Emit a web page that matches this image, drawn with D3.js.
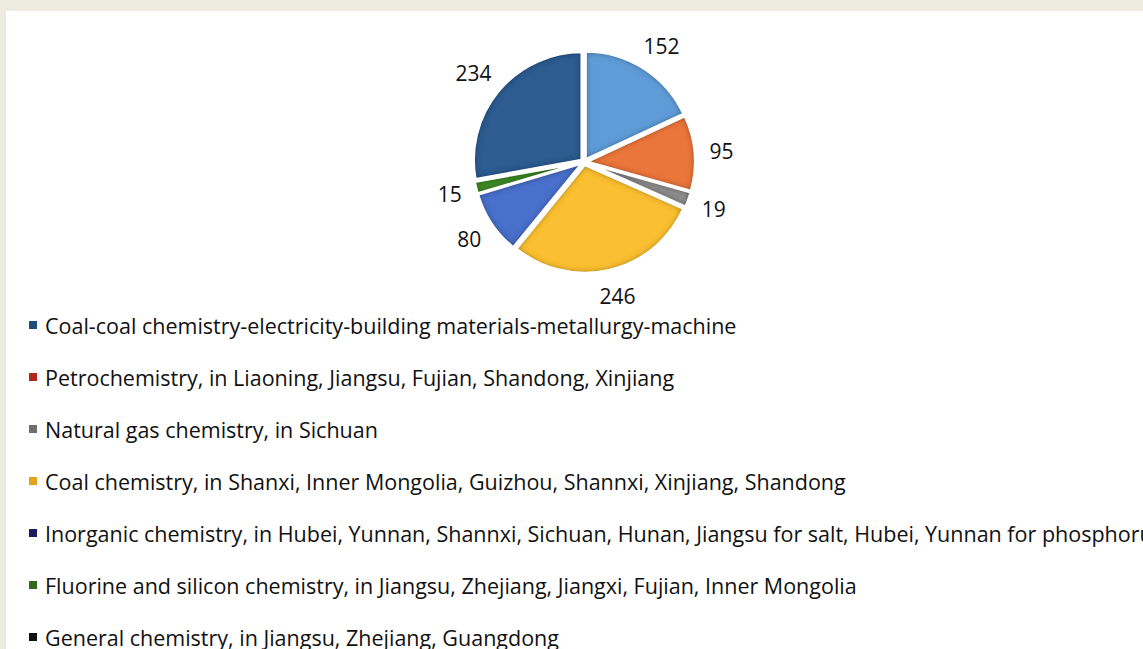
<!DOCTYPE html>
<html>
<head>
<meta charset="utf-8">
<script src="https://cdn.jsdelivr.net/npm/d3@7"></script>
<style>
  html, body { margin: 0; padding: 0; background: #edeae0; }
  svg { display: block; }
</style>
</head>
<body>
<svg id="chart" width="1143" height="649"></svg>
<script>
// Chemical industry bases by type
const categories = [
  "Coal-coal chemistry-electricity-building materials-metallurgy-machine",
  "Petrochemistry, in Liaoning, Jiangsu, Fujian, Shandong, Xinjiang",
  "Natural gas chemistry, in Sichuan",
  "Coal chemistry, in Shanxi, Inner Mongolia, Guizhou, Shannxi, Xinjiang, Shandong",
  "Inorganic chemistry, in Hubei, Yunnan, Shannxi, Sichuan, Hunan, Jiangsu for salt, Hubei, Yunnan for phosphorus",
  "Fluorine and silicon chemistry, in Jiangsu, Zhejiang, Jiangxi, Fujian, Inner Mongolia",
  "General chemistry, in Jiangsu, Zhejiang, Guangdong"
];
const values = [152, 95, 19, 246, 80, 15, 234];
const sliceColors = ["#5f9bd7", "#ea763b", "#8c8c8c", "#fabf32", "#4a6fca", "#3f8c28", "#2d5c90"];
const legendColors = ["#1f4e79", "#b3261e", "#6e6e6e", "#e3a21a", "#1b1b5e", "#2f6a1b", "#111111"];

const svg = d3.select("#chart");

// White panel on the beige page
svg.append("rect").attr("x", 6).attr("y", 11).attr("width", 1137).attr("height", 638).attr("fill", "#ffffff");

// Inner shadow that darkens each wedge towards its edges
const defs = svg.append("defs");
const f = defs.append("filter").attr("id", "inner").attr("x", "-10%").attr("y", "-10%").attr("width", "120%").attr("height", "120%");
f.append("feGaussianBlur").attr("in", "SourceAlpha").attr("stdDeviation", 3).attr("result", "blur");
f.append("feComposite").attr("in", "SourceAlpha").attr("in2", "blur")
  .attr("operator", "arithmetic").attr("k2", 1.5).attr("k3", -1.5).attr("result", "edge");
f.append("feFlood").attr("flood-color", "#000").attr("flood-opacity", 0.6).attr("result", "col");
f.append("feComposite").attr("in", "col").attr("in2", "edge").attr("operator", "in").attr("result", "shadow");
const m = f.append("feMerge");
m.append("feMergeNode").attr("in", "SourceGraphic");
m.append("feMergeNode").attr("in", "shadow");

const cx = 584, cy = 162, radius = 108, explode = 3, labelGap = 18;

const pie = d3.pie().sort(null).value(d => d)(values);
const arc = d3.arc().innerRadius(0).outerRadius(radius);
const mid = d => (d.startAngle + d.endAngle) / 2;
const shift = d => `translate(${explode * Math.sin(mid(d))},${-explode * Math.cos(mid(d))})`;

const g = svg.append("g").attr("transform", `translate(${cx},${cy})`);

// Shaded wedge fills
g.selectAll("path.slice").data(pie).join("path")
  .attr("class", "slice")
  .attr("d", arc)
  .attr("fill", (d, i) => sliceColors[i])
  .attr("filter", "url(#inner)")
  .attr("transform", shift);

// White separators between wedges
g.selectAll("path.sep").data(pie).join("path")
  .attr("class", "sep")
  .attr("d", arc)
  .attr("fill", "none")
  .attr("stroke", "#fff").attr("stroke-width", 2.5)
  .attr("stroke-linejoin", "round")
  .attr("transform", shift);

// Value labels sit just outside the rim, their box pushed out along the wedge's bisector
const labels = g.selectAll("text.val").data(pie).join("text")
  .attr("class", "val")
  .attr("text-anchor", "middle")
  .attr("dominant-baseline", "central")
  .attr("font-family", "'Open Sans', sans-serif")
  .attr("font-size", 21)
  .attr("fill", "#111")
  .text(d => d.data);
labels.each(function (d) {
  const a = mid(d);
  const w = this.getComputedTextLength();
  const r = radius + labelGap;
  const x = r * Math.sin(a) + (w / 2) * Math.sin(a);
  const y = -r * Math.cos(a) - 12 * Math.cos(a);
  d3.select(this).attr("x", x).attr("y", y);
});

// Legend
const legendY = d3.scaleLinear().domain([0, categories.length - 1]).range([325, 637]);
const lg = svg.append("g");
const rows = lg.selectAll("g").data(categories).join("g")
  .attr("transform", (d, i) => `translate(0,${legendY(i)})`);
rows.append("rect").attr("x", 29).attr("y", -4).attr("width", 8).attr("height", 8)
  .attr("fill", (d, i) => legendColors[i]);
const texts = rows.append("text")
  .attr("x", 45).attr("y", 0)
  .attr("dominant-baseline", "central")
  .attr("font-family", "'Open Sans', sans-serif")
  .attr("font-size", 20)
  .attr("fill", "#111")
  .text(d => d);

// Size legend type so the first row spans its full line width
const w0 = texts.node().getComputedTextLength();
texts.attr("font-size", 20 * 692 / w0);
</script>
</body>
</html>
